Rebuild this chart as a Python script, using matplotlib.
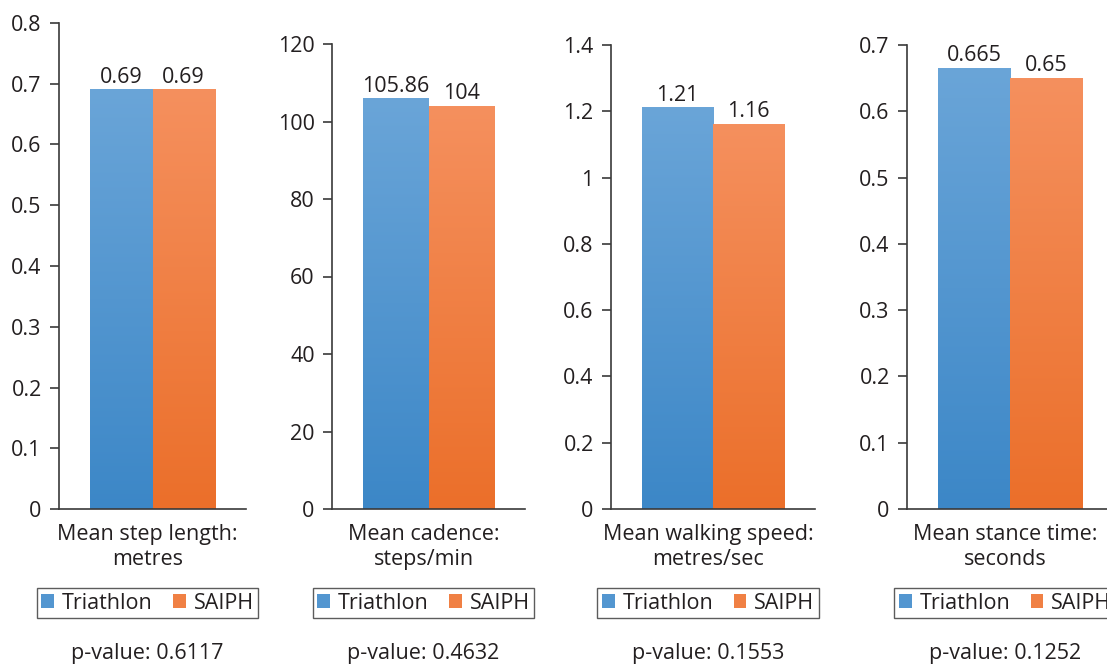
import numpy as np
import matplotlib
matplotlib.use("Agg")
import matplotlib.pyplot as plt
from matplotlib.patches import Patch
from matplotlib.ticker import FuncFormatter, MultipleLocator

plt.rcParams['font.family'] = ['Open Sans', 'DejaVu Sans']

# ---- data ----
groups = ["Triathlon", "SAIPH"]
categories = ["Mean step length:\nmetres", "Mean cadence:\nsteps/min",
              "Mean walking speed:\nmetres/sec", "Mean stance time:\nseconds"]
triathlon = [0.69, 105.86, 1.21, 0.665]
saiph = [0.69, 104, 1.16, 0.65]
value_labels_tri = ["0.69", "105.86", "1.21", "0.665"]
value_labels_saiph = ["0.69", "104", "1.16", "0.65"]
y_max = [0.8, 120, 1.4, 0.7]
y_step = [0.1, 20, 0.2, 0.1]
p_values = ["p-value: 0.6117", "p-value: 0.4632", "p-value: 0.1553", "p-value: 0.1252"]

# ---- layout (pixels) ----
W, H = 1107, 664
axes_px = [  # left, right, top ; bottom = 509
    (59, 246, 23),
    (332, 525, 44),
    (611, 815, 45),
    (907, 1113, 45),
]
bar_frac = [0.332, 0.337, 0.35, 0.35]
base_y = 509

blue_top, blue_bot = np.array([0x6a, 0xa5, 0xd8]) / 255, np.array([0x3c, 0x87, 0xc7]) / 255
orng_top, orng_bot = np.array([0xf5, 0x90, 0x5e]) / 255, np.array([0xeb, 0x6f, 0x2a]) / 255
text_color = '#231f20'
axis_color = '#3a3a3a'
FS = 15.5

fig = plt.figure(figsize=(W / 100, H / 100), dpi=100)


def gradient_bar(ax, x0, width, height, ctop, cbot):
    grad = np.linspace(0, 1, 256)[:, None, None]
    img = ctop[None, None, :] * (1 - grad) + cbot[None, None, :] * grad
    ax.imshow(img, extent=(x0, x0 + width, 0, height), aspect='auto',
              origin='upper', zorder=2, interpolation='bilinear')


for i in range(4):
    l, r, t = axes_px[i]
    ax = fig.add_axes([l / W, (H - base_y) / H, (r - l) / W, (base_y - t) / H])
    w = bar_frac[i]
    gradient_bar(ax, -w, w, triathlon[i], blue_top, blue_bot)
    gradient_bar(ax, 0, w, saiph[i], orng_top, orng_bot)
    ax.set_xlim(-0.5, 0.5)
    ax.set_ylim(0, y_max[i])

    ax.annotate(value_labels_tri[i], (-w / 2, triathlon[i]), xytext=(0, 1.5),
                textcoords='offset points', ha='center', va='bottom',
                fontsize=FS, color=text_color)
    ax.annotate(value_labels_saiph[i], (w / 2, saiph[i]), xytext=(0, 1.5),
                textcoords='offset points', ha='center', va='bottom',
                fontsize=FS, color=text_color)

    for s in ['top', 'right']:
        ax.spines[s].set_visible(False)
    for s in ['left', 'bottom']:
        ax.spines[s].set_color(axis_color)
        ax.spines[s].set_linewidth(1.2)
    ax.yaxis.set_major_locator(MultipleLocator(y_step[i]))
    ax.yaxis.set_major_formatter(FuncFormatter(lambda v, p: f"{v:.10g}" if abs(v) > 1e-9 else "0"))
    ax.tick_params(axis='y', length=6.5, width=1.2, color=axis_color,
                   pad=6, labelsize=FS, labelcolor=text_color)
    ax.set_xticks([])

    ax.annotate(categories[i], (0.5, 0), xycoords='axes fraction',
                xytext=(-3.6, -10.5), textcoords='offset points', ha='center',
                va='top', fontsize=FS, color=text_color, linespacing=1.25)

    cx = (l + r) / 2 - 5
    handles = [Patch(facecolor=blue_bot * 0.5 + blue_top * 0.5, edgecolor='none'),
               Patch(facecolor=orng_bot * 0.5 + orng_top * 0.5, edgecolor='none')]
    leg = ax.legend(handles, groups, loc='upper center',
                    bbox_to_anchor=(cx / W, 1 - 588 / H), bbox_transform=fig.transFigure,
                    ncol=2, fontsize=FS, frameon=True, fancybox=False,
                    handlelength=0.6, handleheight=0.6, handletextpad=0.35,
                    columnspacing=0.95, borderpad=0.22, borderaxespad=0)
    leg.get_frame().set_edgecolor('#333333')
    leg.get_frame().set_linewidth(1.0)
    for txt in leg.get_texts():
        txt.set_color(text_color)

    fig.text(cx / W, 1 - 654 / H, p_values[i], ha='center', va='center',
             fontsize=FS, color=text_color)

fig.savefig("out.png", dpi=100)
